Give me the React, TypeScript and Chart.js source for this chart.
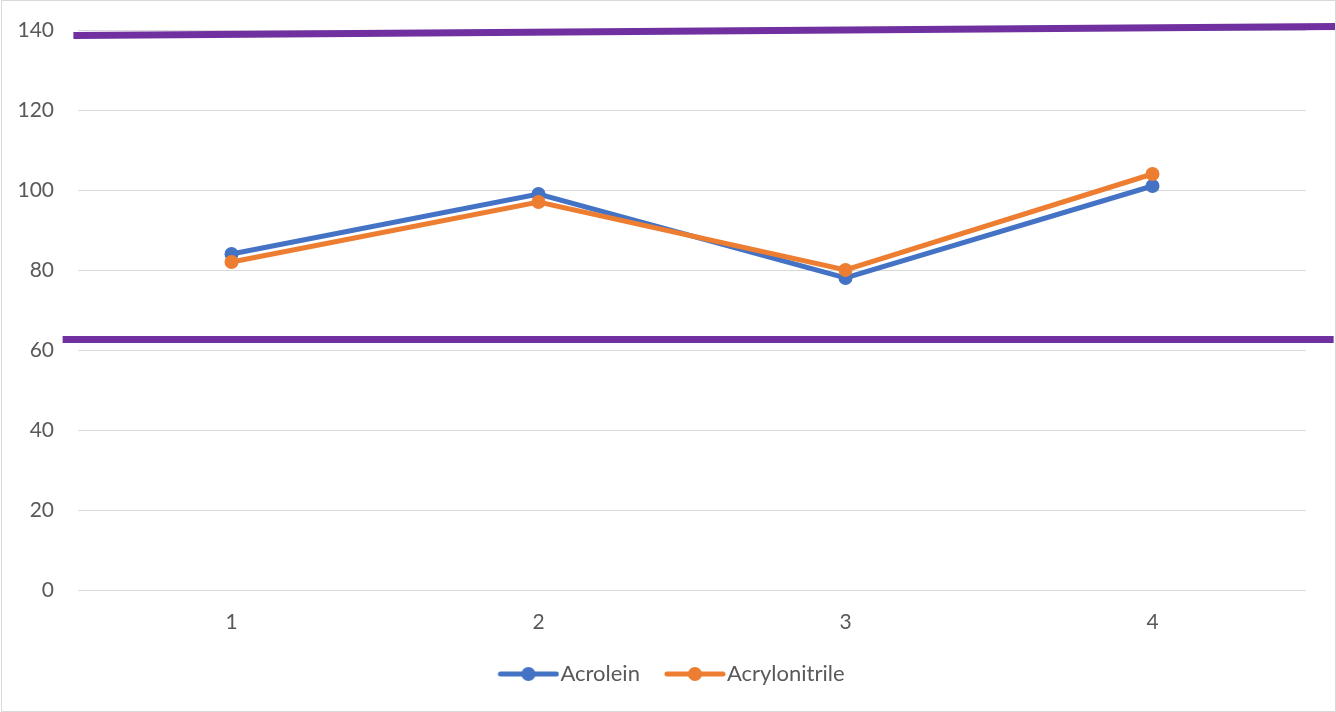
import React, { useEffect, useRef } from "react";
import { Chart, registerables } from "chart.js";

Chart.register(...registerables);

// Category labels and series values
const categories = ["1", "2", "3", "4"];
const acrolein = [84, 99, 78, 101];
const acrylonitrile = [82, 97, 80, 104];

// Value axis range
const yMin = 0;
const yMax = 140;
const yStep = 20;

// Reference limit lines, expressed in axis units (category index, value)
const upperLimitX = [-0.515, 3.62];
const upperLimitY = [138.6, 140.9];
const lowerLimitX = [-0.55, 3.59];
const lowerLimitY = [62.6, 62.6];

const BLUE = "#4472C4";
const ORANGE = "#ED7D31";
const PURPLE = "#7030A0";
const TEXT = "#595959";
const GRID = "#d9d9d9";
const TICK_SIZE = 21;
const LEGEND_SIZE = 22;

function legendMarker(color: string): HTMLCanvasElement {
  const c = document.createElement("canvas");
  c.width = 72;
  c.height = 16;
  const ctx = c.getContext("2d")!;
  ctx.strokeStyle = color;
  ctx.lineWidth = 5;
  ctx.lineCap = "round";
  ctx.beginPath();
  ctx.moveTo(13, 8);
  ctx.lineTo(69, 8);
  ctx.stroke();
  ctx.fillStyle = color;
  ctx.beginPath();
  ctx.arc(41, 8, 7, 0, Math.PI * 2);
  ctx.fill();
  return c;
}

const limitLines = {
  id: "limitLines",
  afterDatasetsDraw(chart: any) {
    const x = chart.scales.x;
    const y = chart.scales.y;
    const ctx = chart.ctx;
    const segs = [
      [upperLimitX, upperLimitY],
      [lowerLimitX, lowerLimitY],
    ];
    ctx.save();
    ctx.strokeStyle = PURPLE;
    ctx.lineWidth = 7;
    ctx.lineCap = "butt";
    for (const [xs, ys] of segs) {
      ctx.beginPath();
      ctx.moveTo(x.getPixelForValue(xs[0]), y.getPixelForValue(ys[0]));
      ctx.lineTo(x.getPixelForValue(xs[1]), y.getPixelForValue(ys[1]));
      ctx.stroke();
    }
    ctx.restore();
  },
};

export default function App() {
  const ref = useRef<HTMLCanvasElement>(null);

  useEffect(() => {
    document.body.style.margin = "0";
    Chart.defaults.font.family = "Lato, 'Open Sans', sans-serif";
    Chart.defaults.font.size = TICK_SIZE;
    Chart.defaults.color = TEXT;

    const chart = new Chart(ref.current!, {
      type: "line",
      data: {
        labels: categories,
        datasets: [
          {
            label: "Acrolein",
            data: acrolein,
            borderColor: BLUE,
            backgroundColor: BLUE,
            borderWidth: 5,
            pointRadius: 7,
            pointBorderWidth: 0,
            pointBackgroundColor: BLUE,
            pointStyle: "circle",
            tension: 0,
            order: 0,
          },
          {
            label: "Acrylonitrile",
            data: acrylonitrile,
            borderColor: ORANGE,
            backgroundColor: ORANGE,
            borderWidth: 5,
            pointRadius: 7,
            pointBorderWidth: 0,
            pointBackgroundColor: ORANGE,
            pointStyle: "circle",
            tension: 0,
            order: -1,
          },
        ],
      },
      options: {
        responsive: false,
        animation: false,
        layout: { padding: { top: 30, right: 0, bottom: 17, left: 6 } },
        scales: {
          x: {
            offset: true,
            grid: { display: false, drawTicks: false },
            border: { display: false },
            ticks: { padding: 20, color: TEXT, font: { size: TICK_SIZE } },
            afterFit(scale: any) {
              scale.height = 49;
            },
          },
          y: {
            min: yMin,
            max: yMax,
            grid: { color: GRID, lineWidth: 1, drawTicks: false },
            border: { display: false },
            ticks: { stepSize: yStep, padding: 24, color: TEXT, font: { size: TICK_SIZE } },
            afterFit(scale: any) {
              scale.width = 72;
              scale.paddingTop = 0;
              scale.paddingBottom = 0;
            },
          },
          // empty right-hand margin beside the plot area
          margin: {
            type: "linear",
            position: "right",
            grid: { display: false, drawTicks: false },
            border: { display: false },
            ticks: { display: false },
            afterFit(scale: any) {
              scale.width = 30;
              scale.paddingTop = 0;
              scale.paddingBottom = 0;
            },
          },
        },
        plugins: {
          tooltip: { enabled: false },
          legend: {
            position: "bottom",
            labels: {
              usePointStyle: true,
              pointStyleWidth: 52,
              padding: 24,
              color: TEXT,
              font: { size: LEGEND_SIZE },
              sort: (a: any, b: any) => a.datasetIndex - b.datasetIndex,
              generateLabels: (ch: any) =>
                ch.data.datasets.map((ds: any, i: number) => ({
                  text: ds.label,
                  datasetIndex: i,
                  pointStyle: legendMarker(ds.borderColor),
                  fillStyle: ds.borderColor,
                  strokeStyle: ds.borderColor,
                  lineWidth: 0,
                  fontColor: TEXT,
                  hidden: false,
                })),
            },
          },
        },
      },
      plugins: [limitLines],
    });
    return () => chart.destroy();
  }, []);

  return (
    <div style={{ position: "fixed", left: 0, top: 0, width: 1336, height: 712, background: "#fff" }}>
      <canvas ref={ref} width={1336} height={712} style={{ position: "absolute", left: 0, top: 0 }} />
      <div
        style={{
          position: "absolute",
          left: 1,
          top: 0,
          width: 1335,
          height: 712,
          boxSizing: "border-box",
          border: "1px solid #d9d9d9",
          pointerEvents: "none",
        }}
      />
    </div>
  );
}
